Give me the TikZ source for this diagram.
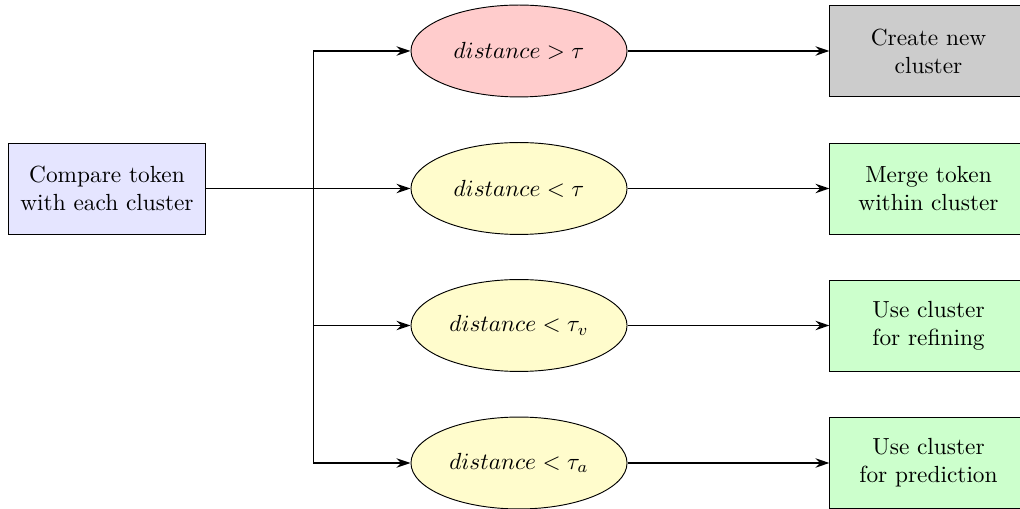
\documentclass[tikz,border=0pt]{standalone}
\usetikzlibrary{shapes.geometric,arrows.meta}
\begin{document}
\begin{tikzpicture}[x=0.4286pt,y=-0.4286pt,
  box/.style={draw, rectangle, minimum width=84.5pt, minimum height=39pt, align=center, inner sep=2pt},
  cond/.style={draw, ellipse, minimum width=92.6pt, minimum height=39.4pt, inner sep=1pt, fill=yellow!20},
  conn/.style={thick, -{Stealth[length=6pt,width=4pt]}},
  ]
\useasboundingbox (0,0) rectangle (1020,509);

% source box
\node[box, fill=blue!10] (cmp) at (107,188.5) {Compare token\\with each cluster};

% threshold conditions
\node[cond, fill=red!20] (e1) at (519,51) {$distance > \tau$};
\node[cond] (e2) at (519,188.5) {$distance < \tau$};
\node[cond] (e3) at (519,325.5) {$distance < \tau_v$};
\node[cond] (e4) at (519,463) {$distance < \tau_a$};

% outcomes
\node[box, fill=gray!40] (r1) at (928.5,51) {Create new\\cluster};
\node[box, fill=green!20] (r2) at (928.5,188.5) {Merge token\\within cluster};
\node[box, fill=green!20] (r3) at (928.5,325.5) {Use cluster\\for refining};
\node[box, fill=green!20] (r4) at (928.5,463) {Use cluster\\for prediction};

% branching point
\coordinate (j) at (313.5,188.5);

\draw[conn] (cmp.east) -- (e2.west);
\draw[conn] (j) |- (e1.west);
\draw[conn] (j) |- (e3.west);
\draw[conn] (j) |- (e4.west);

\draw[conn] (e1.east) -- (r1.west);
\draw[conn] (e2.east) -- (r2.west);
\draw[conn] (e3.east) -- (r3.west);
\draw[conn] (e4.east) -- (r4.west);
\end{tikzpicture}
\end{document}
